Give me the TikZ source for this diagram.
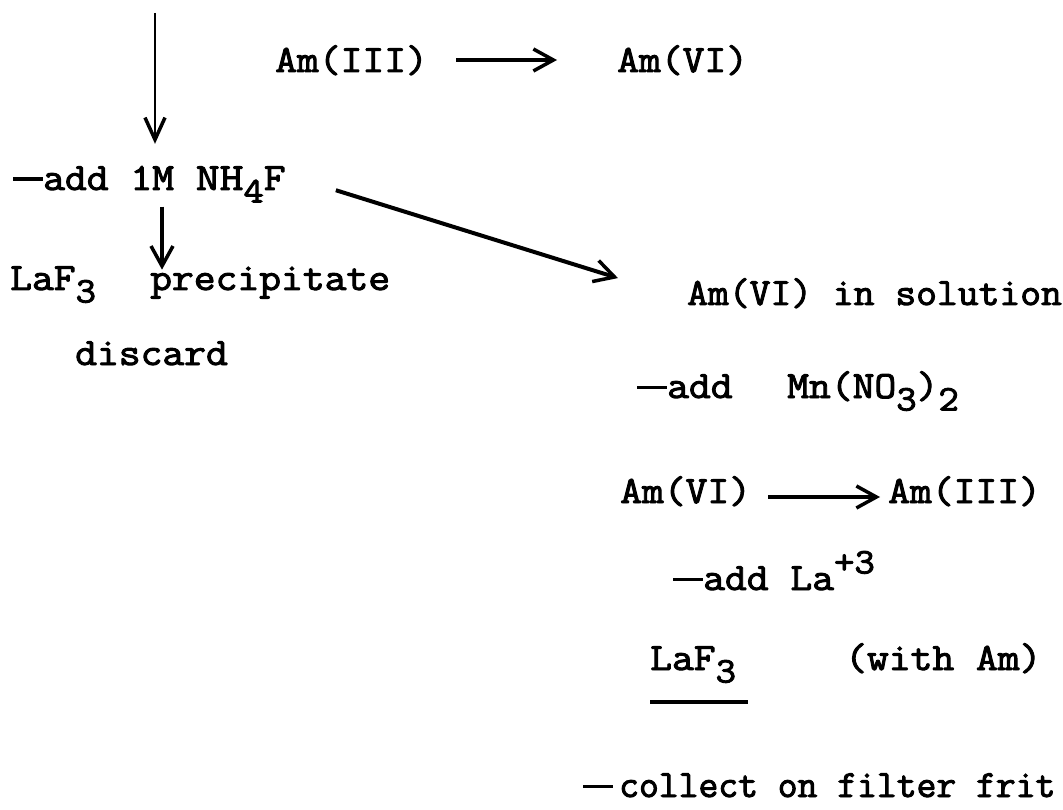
\documentclass[tikz,border=0pt]{standalone}
\usepackage{fontspec}
\setmainfont{Latin Modern Mono}[FakeBold=2.5,FakeStretch=1.1]
\newfontfamily\narrowtt{Latin Modern Mono}[FakeBold=2.5]
\newfontfamily\midtt{Latin Modern Mono}[FakeBold=2.5,FakeStretch=1.05]
\newfontfamily\widett{Latin Modern Mono}[FakeBold=2.5,FakeStretch=1.2]
\usetikzlibrary{arrows.meta}
\newcommand{\lsub}[1]{\raisebox{-0.75ex}{\fontsize{36}{36}\selectfont #1}}
\newcommand{\lsup}[1]{\raisebox{1.0ex}{\fontsize{36}{36}\selectfont #1}}
\newcommand{\ldash}{\rule[9pt]{30pt}{3.5pt}}
\begin{document}
\begin{tikzpicture}[x=1pt,y=-1pt,
  txt/.style={anchor=base west,inner sep=0pt,font=\fontsize{38.5}{44}\selectfont},
  arr/.style={line width=4pt,-{Straight Barb[length=20pt,width=22pt,line width=3.5pt]}},
  thinarr/.style={line width=2.6pt,-{Straight Barb[length=22pt,width=20pt,line width=3.5pt]}}]
\useasboundingbox (0,0) rectangle (1063,810);
\coordinate (start) at (155,13);
\node[txt] (am3) at (275,72) {Am(III)};
\node[txt] (am6) at (617,72) {Am(VI)};
\node[txt] (add) at (13,190) {\ldash{}add 1M {\widett NH}\lsub{4}F};
\node[txt] (laf) at (10,290) {LaF\lsub{3}};
\node[txt] (prec) at (150,290) {precipitate};
\node[txt] (disc) at (75,365) {discard};
\node[txt,font=\fontsize{38.5}{44}\midtt] (sol) at (687,305) {Am(VI) in solution};
\node[txt] (mn) at (637,398) {\ldash{}add};
\node[txt] (mn2) at (787,398) {Mn(NO\lsub{3})\lsub{2}};
\node[txt] (am6b) at (620,503) {Am(VI)};
\node[txt] (am3b) at (888,503) {Am(III)};
\node[txt] (la) at (673,590) {\ldash{}add La\lsup{+3}};
\node[txt] (laf2) at (650,670) {LaF\lsub{3}};
\node[txt] (with) at (845,670) {(with Am)};
\node[txt,font=\fontsize{38.5}{44}\narrowtt] (coll) at (583,797) {\ldash\hspace{6pt}collect on filter frit};
\draw[line width=3.5pt] (650,702) -- (748,702);
\draw[thinarr] (start) -- ([yshift=22pt]add.north -| start);
\draw[arr] ([yshift=-4pt]add.south -| 162,0) -- ([xshift=12pt,yshift=-3pt]prec.north west);
\draw[arr] ([xshift=50pt,yshift=-6pt]add.east) -- ([xshift=-69pt]sol.north west);
\draw[arr] ([xshift=28pt]am3.east |- 0,60) -- ([xshift=-60pt]am6.west |- 0,60);
\draw[arr] ([xshift=17pt]am6b.east |- 0,497) -- ([xshift=-8pt]am3b.west |- 0,497);
\end{tikzpicture}
\end{document}
